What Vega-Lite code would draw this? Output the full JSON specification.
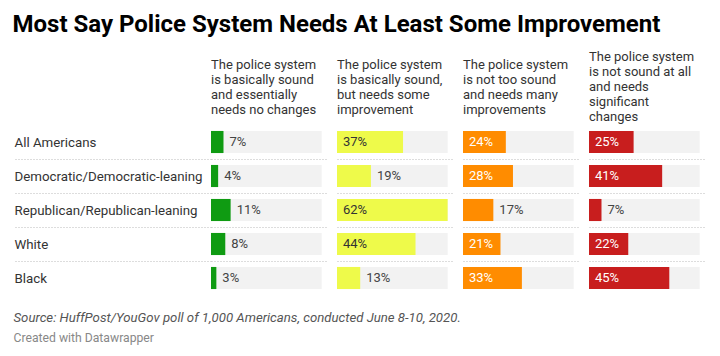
{
  "$schema": "https://vega.github.io/schema/vega-lite/v6.json",
  "padding": {"left": 12, "top": 13, "right": 5, "bottom": 5},
  "background": "white",
  "config": {
    "view": {"stroke": null},
    "font": "Roboto",
    "concat": {"spacing": 0},
    "text": {"font": "Roboto", "fontSize": 13},
    "title": {"font": "Roboto"}
  },
  "datasets": {
    "poll": [
      {"group": "All Americans", "col": "c1", "value": 0.07},
      {"group": "Democratic/Democratic-leaning", "col": "c1", "value": 0.04},
      {"group": "Republican/Republican-leaning", "col": "c1", "value": 0.11},
      {"group": "White", "col": "c1", "value": 0.08},
      {"group": "Black", "col": "c1", "value": 0.03},
      {"group": "All Americans", "col": "c2", "value": 0.37},
      {"group": "Democratic/Democratic-leaning", "col": "c2", "value": 0.19},
      {"group": "Republican/Republican-leaning", "col": "c2", "value": 0.62},
      {"group": "White", "col": "c2", "value": 0.44},
      {"group": "Black", "col": "c2", "value": 0.13},
      {"group": "All Americans", "col": "c3", "value": 0.24},
      {"group": "Democratic/Democratic-leaning", "col": "c3", "value": 0.28},
      {"group": "Republican/Republican-leaning", "col": "c3", "value": 0.17},
      {"group": "White", "col": "c3", "value": 0.21},
      {"group": "Black", "col": "c3", "value": 0.33},
      {"group": "All Americans", "col": "c4", "value": 0.25},
      {"group": "Democratic/Democratic-leaning", "col": "c4", "value": 0.41},
      {"group": "Republican/Republican-leaning", "col": "c4", "value": 0.07},
      {"group": "White", "col": "c4", "value": 0.22},
      {"group": "Black", "col": "c4", "value": 0.45}
    ]
  },
  "title": {
    "text": "Most Say Police System Needs At Least Some Improvement",
    "anchor": "start",
    "fontSize": 24,
    "fontWeight": "bold",
    "color": "#000000",
    "dx": -1,
    "offset": 14
  },
  "vconcat": [
    {
      "title": {
        "text": "Source: HuffPost/YouGov poll of 1,000 Americans, conducted June 8-10, 2020.",
        "subtitle": "Created with Datawrapper",
        "orient": "bottom",
        "anchor": "start",
        "fontSize": 13.2,
        "fontStyle": "italic",
        "fontWeight": "normal",
        "color": "#555555",
        "subtitleFontSize": 12.2,
        "subtitleColor": "#888888",
        "subtitlePadding": 7,
        "offset": 17
      },
      "hconcat": [
        {
          "width": 126,
          "height": 170,
          "data": {"name": "poll"},
          "transform": [{"filter": "datum.col === 'c1'"}],
          "title": {"text": ["The police system", "is basically sound", "and essentially", "needs no changes"], "anchor": "start", "frame": "group", "fontSize": 13, "fontWeight": "normal", "color": "#333333", "lineHeight": 15, "offset": 8},
          "encoding": {
            "y": {
              "field": "group", "type": "nominal", "sort": null, "title": null,
              "scale": {"paddingInner": 0.35, "paddingOuter": 0.175},
              "axis": {
                "domain": false, "grid": true, "gridDash": [1, 2], "gridColor": "#bbbbbb",
                "gridOpacity": {"condition": {"test": "datum.value === 'Black'", "value": 0}, "value": 1},
                "ticks": true, "tickSize": 197, "tickDash": [1, 2], "tickColor": "#bbbbbb",
                "tickOpacity": {"condition": {"test": "datum.value === 'Black'", "value": 0}, "value": 1},
                "tickOffset": 17, "labelOffset": -17, "labelPadding": 0, "labelLimit": 260,
                "labelAlign": "left", "labelFontSize": 13.3, "labelColor": "#333333", "labelFont": "Roboto",
                "maxExtent": 220
              }
            }
          },
          "layer": [
            {"mark": {"type": "bar", "color": "#f2f2f2"}, "encoding": {"x": {"datum": 0.62, "type": "quantitative", "scale": {"domain": [0, 0.62], "range": [0, 116]}, "axis": null}}},
            {"mark": {"type": "bar", "color": "#0f9b12"}, "encoding": {"x": {"field": "value", "type": "quantitative"}}},
            {"transform": [{"filter": "datum.value >= 0.2"}], "mark": {"type": "text", "align": "left", "dx": 6, "color": "#ffffff"}, "encoding": {"x": {"datum": 0, "type": "quantitative"}, "text": {"field": "value", "type": "quantitative", "format": ".0%"}}},
            {"transform": [{"filter": "datum.value < 0.2"}], "mark": {"type": "text", "align": "left", "dx": 6, "color": "#444444"}, "encoding": {"x": {"field": "value", "type": "quantitative"}, "text": {"field": "value", "type": "quantitative", "format": ".0%"}}}
          ]
        },
        {
          "width": 126,
          "height": 170,
          "data": {"name": "poll"},
          "transform": [{"filter": "datum.col === 'c2'"}],
          "title": {"text": ["The police system", "is basically sound,", "but needs some", "improvement"], "anchor": "start", "frame": "group", "fontSize": 13, "fontWeight": "normal", "color": "#333333", "lineHeight": 15, "offset": 8},
          "encoding": {
            "y": {
              "field": "group", "type": "nominal", "sort": null, "title": null,
              "scale": {"paddingInner": 0.35, "paddingOuter": 0.175},
              "axis": {
                "domain": false, "labels": false, "ticks": false, "grid": true, "gridDash": [1, 2], "gridColor": "#bbbbbb",
                "gridOpacity": {"condition": {"test": "datum.value === 'Black'", "value": 0}, "value": 1},
                "tickOffset": 17, "minExtent": 0, "maxExtent": 0
              }
            }
          },
          "layer": [
            {"mark": {"type": "bar", "color": "#f2f2f2"}, "encoding": {"x": {"datum": 0.62, "type": "quantitative", "scale": {"domain": [0, 0.62], "range": [0, 116]}, "axis": null}}},
            {"mark": {"type": "bar", "color": "#eefa4a"}, "encoding": {"x": {"field": "value", "type": "quantitative"}}},
            {"transform": [{"filter": "datum.value >= 0.2"}], "mark": {"type": "text", "align": "left", "dx": 6, "color": "#333333"}, "encoding": {"x": {"datum": 0, "type": "quantitative"}, "text": {"field": "value", "type": "quantitative", "format": ".0%"}}},
            {"transform": [{"filter": "datum.value < 0.2"}], "mark": {"type": "text", "align": "left", "dx": 6, "color": "#444444"}, "encoding": {"x": {"field": "value", "type": "quantitative"}, "text": {"field": "value", "type": "quantitative", "format": ".0%"}}}
          ]
        },
        {
          "width": 126,
          "height": 170,
          "data": {"name": "poll"},
          "transform": [{"filter": "datum.col === 'c3'"}],
          "title": {"text": ["The police system", "is not too sound", "and needs many", "improvements"], "anchor": "start", "frame": "group", "fontSize": 13, "fontWeight": "normal", "color": "#333333", "lineHeight": 15, "offset": 8},
          "encoding": {
            "y": {
              "field": "group", "type": "nominal", "sort": null, "title": null,
              "scale": {"paddingInner": 0.35, "paddingOuter": 0.175},
              "axis": {
                "domain": false, "labels": false, "ticks": false, "grid": true, "gridDash": [1, 2], "gridColor": "#bbbbbb",
                "gridOpacity": {"condition": {"test": "datum.value === 'Black'", "value": 0}, "value": 1},
                "tickOffset": 17, "minExtent": 0, "maxExtent": 0
              }
            }
          },
          "layer": [
            {"mark": {"type": "bar", "color": "#f2f2f2"}, "encoding": {"x": {"datum": 0.62, "type": "quantitative", "scale": {"domain": [0, 0.62], "range": [0, 116]}, "axis": null}}},
            {"mark": {"type": "bar", "color": "#ff8c00"}, "encoding": {"x": {"field": "value", "type": "quantitative"}}},
            {"transform": [{"filter": "datum.value >= 0.2"}], "mark": {"type": "text", "align": "left", "dx": 6, "color": "#ffffff"}, "encoding": {"x": {"datum": 0, "type": "quantitative"}, "text": {"field": "value", "type": "quantitative", "format": ".0%"}}},
            {"transform": [{"filter": "datum.value < 0.2"}], "mark": {"type": "text", "align": "left", "dx": 6, "color": "#444444"}, "encoding": {"x": {"field": "value", "type": "quantitative"}, "text": {"field": "value", "type": "quantitative", "format": ".0%"}}}
          ]
        },
        {
          "width": 121,
          "height": 170,
          "data": {"name": "poll"},
          "transform": [{"filter": "datum.col === 'c4'"}],
          "title": {"text": ["The police system", "is not sound at all", "and needs", "significant", "changes"], "anchor": "start", "frame": "group", "fontSize": 13, "fontWeight": "normal", "color": "#333333", "lineHeight": 15, "offset": 1},
          "encoding": {
            "y": {
              "field": "group", "type": "nominal", "sort": null, "title": null,
              "scale": {"paddingInner": 0.35, "paddingOuter": 0.175},
              "axis": {
                "domain": false, "labels": false, "ticks": false, "grid": true, "gridDash": [1, 2], "gridColor": "#bbbbbb",
                "gridOpacity": {"condition": {"test": "datum.value === 'Black'", "value": 0}, "value": 1},
                "tickOffset": 17, "minExtent": 0, "maxExtent": 0
              }
            }
          },
          "layer": [
            {"mark": {"type": "bar", "color": "#f2f2f2"}, "encoding": {"x": {"datum": 0.62, "type": "quantitative", "scale": {"domain": [0, 0.62], "range": [0, 116]}, "axis": null}}},
            {"mark": {"type": "bar", "color": "#c81e1e"}, "encoding": {"x": {"field": "value", "type": "quantitative"}}},
            {"transform": [{"filter": "datum.value >= 0.2"}], "mark": {"type": "text", "align": "left", "dx": 6, "color": "#ffffff"}, "encoding": {"x": {"datum": 0, "type": "quantitative"}, "text": {"field": "value", "type": "quantitative", "format": ".0%"}}},
            {"transform": [{"filter": "datum.value < 0.2"}], "mark": {"type": "text", "align": "left", "dx": 6, "color": "#444444"}, "encoding": {"x": {"field": "value", "type": "quantitative"}, "text": {"field": "value", "type": "quantitative", "format": ".0%"}}}
          ]
        }
      ]
    }
  ]
}
